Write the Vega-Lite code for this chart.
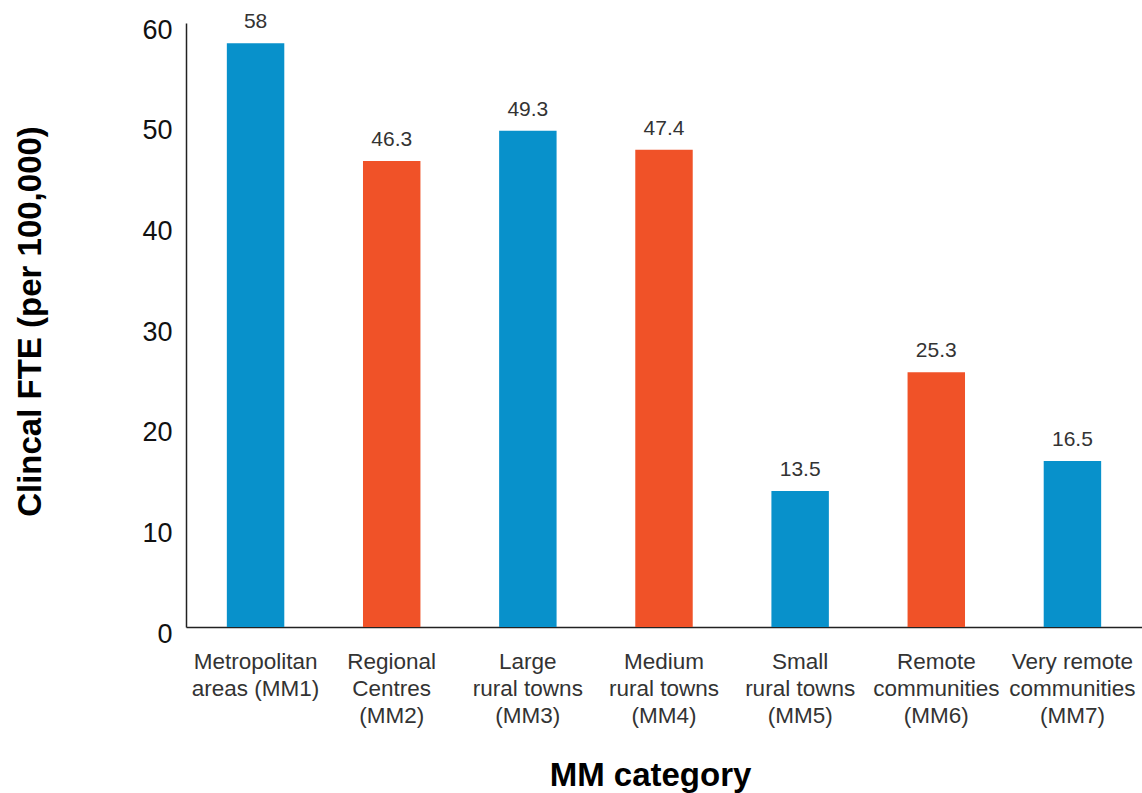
{
  "$schema": "https://vega.github.io/schema/vega-lite/v6.json",
  "autosize": "none",
  "width": 956,
  "height": 604,
  "padding": {"left": 186, "top": 23, "right": 0, "bottom": 166},
  "background": "white",
  "config": {
    "view": {"stroke": null},
    "font": "Liberation Sans"
  },
  "data": {
    "values": [
      {"category": "Metropolitan|areas (MM1)", "fte": 58, "label": "58", "group": "a"},
      {"category": "Regional|Centres|(MM2)", "fte": 46.3, "label": "46.3", "group": "b"},
      {"category": "Large|rural towns|(MM3)", "fte": 49.3, "label": "49.3", "group": "a"},
      {"category": "Medium|rural towns|(MM4)", "fte": 47.4, "label": "47.4", "group": "b"},
      {"category": "Small|rural towns|(MM5)", "fte": 13.5, "label": "13.5", "group": "a"},
      {"category": "Remote|communities|(MM6)", "fte": 25.3, "label": "25.3", "group": "b"},
      {"category": "Very remote|communities|(MM7)", "fte": 16.5, "label": "16.5", "group": "a"}
    ]
  },
  "encoding": {
    "x": {
      "field": "category",
      "type": "nominal",
      "sort": null,
      "scale": {"paddingInner": 0.578, "paddingOuter": 0.3},
      "axis": {
        "title": "MM category",
        "titleFont": "Liberation Sans",
        "titleFontSize": 33,
        "titleFontWeight": "bold",
        "titleColor": "#000000",
        "titleX": 464,
        "titleY": 148,
        "titleBaseline": "middle",
        "labelExpr": "split(datum.value, '|')",
        "labelAngle": 0,
        "labelFontSize": 22.5,
        "labelLineHeight": 27,
        "labelColor": "#333333",
        "labelPadding": 23,
        "labelBaseline": "top",
        "ticks": false,
        "domainColor": "#222222",
        "domainWidth": 1.5,
        "labelOverlap": false
      }
    },
    "y": {
      "field": "fte",
      "type": "quantitative",
      "scale": {"domain": [0, 60], "nice": false},
      "axis": {
        "title": "Clincal FTE (per 100,000)",
        "titleFont": "Liberation Sans",
        "titleFontSize": 33,
        "titleFontWeight": "bold",
        "titleColor": "#000000",
        "titleAngle": 270,
        "titleX": -156,
        "titleY": 298,
        "titleAlign": "center",
        "titleBaseline": "middle",
        "values": [0, 10, 20, 30, 40, 50, 60],
        "grid": false,
        "ticks": false,
        "labelFontSize": 27,
        "labelColor": "#111111",
        "labelPadding": 14,
        "labelOffset": 7,
        "domainColor": "#222222",
        "domainWidth": 1.5
      }
    }
  },
  "layer": [
    {
      "mark": {"type": "bar"},
      "encoding": {
        "color": {
          "field": "group",
          "type": "nominal",
          "scale": {"domain": ["a", "b"], "range": ["#0891cb", "#f05228"]},
          "legend": null
        }
      }
    },
    {
      "mark": {"type": "text", "baseline": "alphabetic", "dy": -15, "fontSize": 21, "color": "#333333"},
      "encoding": {
        "text": {"field": "label"}
      }
    }
  ]
}
